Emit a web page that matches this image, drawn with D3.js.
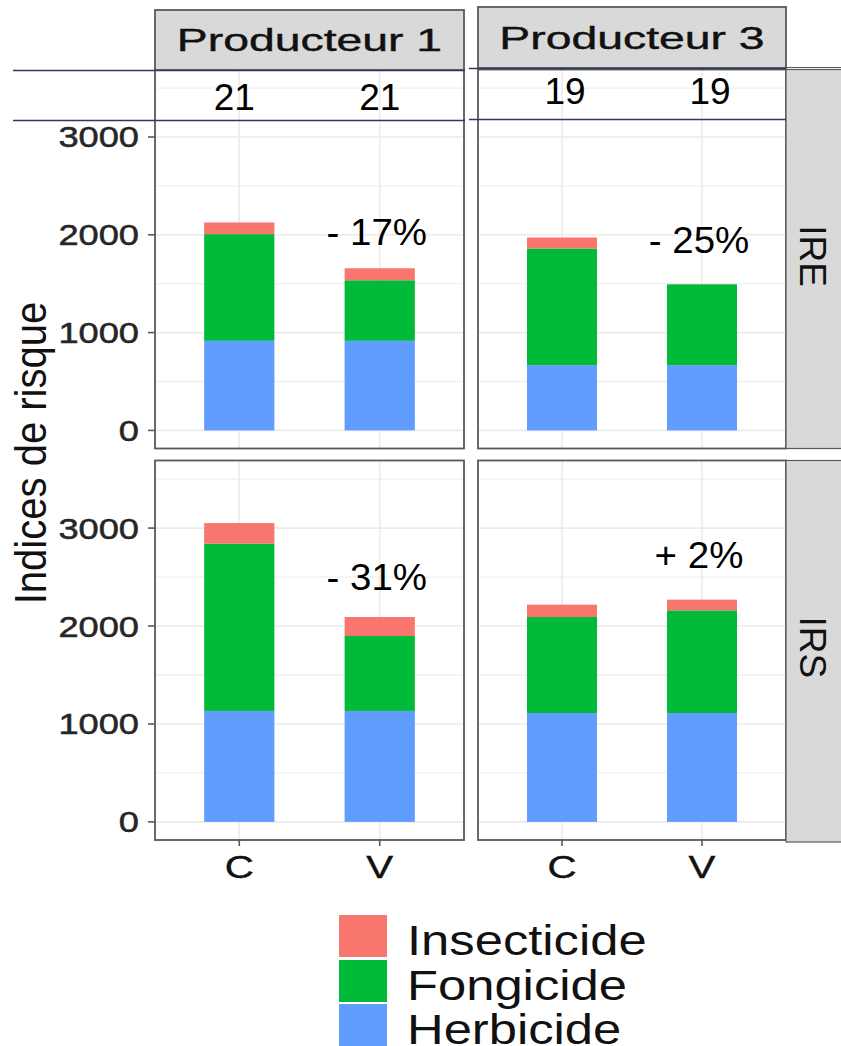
<!DOCTYPE html>
<html>
<head>
<meta charset="utf-8">
<script src="https://cdn.jsdelivr.net/npm/d3@7"></script>
<style>
  html, body { margin: 0; padding: 0; background: #fff; }
  svg { display: block; font-family: "Liberation Sans", Arial, Helvetica, sans-serif; }
</style>
</head>
<body>
<svg id="chart" width="841" height="1046"></svg>
<script>
// ---------------- data ----------------
const producers = ["Producteur 1", "Producteur 3"];
const indices = ["IRE", "IRS"];
const categories = ["C", "V"];
const types = ["Herbicide", "Fongicide", "Insecticide"]; // stack order, bottom to top
const typeColors = ["#619CFF", "#00BA38", "#F8766D"];
const legendOrder = ["Insecticide", "Fongicide", "Herbicide"];

// values per panel/bar: [P1 C, P1 V, P3 C, P3 V]
const herbicideIRE   = [916, 916, 667, 667];
const fongicideIRE   = [1091, 619, 1193, 827];
const insecticideIRE = [119, 123, 112, 0];
const herbicideIRS   = [1133, 1133, 1112, 1112];
const fongicideIRS   = [1708, 765, 980, 1048];
const insecticideIRS = [210, 194, 126, 109];

const countLabels  = ["21", "21", "19", "19"];            // per producer/category (header row)
const changeLabels = [["- 17%", "- 25%"], ["- 31%", "+ 2%"]]; // [row][producer]
const changeLabelValue = [[1900, 1815], [2370, 2595]];     // annotation height (data units)
const yTicks = [0, 1000, 2000, 3000];
const yMinor = [500, 1500, 2500, 3500];
const yTitle = "Indices de risque";

// ---------------- layout ----------------
const svg = d3.select("#chart");
const colX = [[155, 464], [478, 786]];
const rowY = [[448.5, 69.5], [840, 460.5]];
const yDomain = [-185, 3690];
const stripR = [786, 841];

const xScales = colX.map(r => d3.scalePoint().domain(categories).range(r).padding(0.6));
const yScales = rowY.map(r => d3.scaleLinear().domain(yDomain).range(r));
const color = d3.scaleOrdinal().domain(types).range(typeColors);

const seriesByRow = [
  [herbicideIRE, fongicideIRE, insecticideIRE],
  [herbicideIRS, fongicideIRS, insecticideIRS]
];

function sText(g, o) {
  const t = g.append("text")
    .attr("transform", `translate(${o.x},${o.y})` + (o.rotate ? ` rotate(${o.rotate})` : "") + ` scale(${o.sx || 1},1)`)
    .attr("text-anchor", o.anchor || "middle")
    .attr("font-size", o.size)
    .attr("fill", o.fill || "#000")
    .text(o.text);
  if (o.stroke) t.attr("stroke", o.fill || "#000").attr("stroke-width", o.stroke);
  return t;
}

const axisColor = "#595959";

indices.forEach((idx, ri) => {
  const y = yScales[ri];
  producers.forEach((prod, ci) => {
    const x = xScales[ci];
    const step = x.step();
    const bw = step * 0.5;
    const g = svg.append("g");
    g.append("rect").attr("x", colX[ci][0]).attr("y", rowY[ri][1])
      .attr("width", colX[ci][1] - colX[ci][0]).attr("height", rowY[ri][0] - rowY[ri][1])
      .attr("fill", "#fff");
    g.selectAll(".gmin").data(yMinor).join("line")
      .attr("x1", colX[ci][0]).attr("x2", colX[ci][1])
      .attr("y1", d => y(d)).attr("y2", d => y(d))
      .attr("stroke", "#F0F0F0").attr("stroke-width", 1.3);
    g.selectAll(".gmaj").data(yTicks).join("line")
      .attr("x1", colX[ci][0]).attr("x2", colX[ci][1])
      .attr("y1", d => y(d)).attr("y2", d => y(d))
      .attr("stroke", "#EBEBEB").attr("stroke-width", 1.6);
    g.selectAll(".gx").data(categories).join("line")
      .attr("x1", d => x(d)).attr("x2", d => x(d))
      .attr("y1", rowY[ri][0]).attr("y2", rowY[ri][1])
      .attr("stroke", "#EBEBEB").attr("stroke-width", 1.6);

    const rows = categories.map((c, k) => {
      const o = { cat: c };
      types.forEach((t, ti) => { o[t] = seriesByRow[ri][ti][ci * 2 + k]; });
      return o;
    });
    const stacked = d3.stack().keys(types)(rows);
    stacked.forEach(layer => {
      g.selectAll(null).data(layer).join("rect")
        .attr("x", d => x(d.data.cat) - bw / 2)
        .attr("width", bw)
        .attr("y", d => y(d[1]))
        .attr("height", d => Math.max(0, y(d[0]) - y(d[1])))
        .attr("fill", color(layer.key));
    });

    g.append("rect").attr("x", colX[ci][0]).attr("y", rowY[ri][1])
      .attr("width", colX[ci][1] - colX[ci][0]).attr("height", rowY[ri][0] - rowY[ri][1])
      .attr("fill", "none").attr("stroke", axisColor).attr("stroke-width", 1.8);

    sText(g, {
      x: x("V") - 3, y: y(changeLabelValue[ri][ci]),
      text: changeLabels[ri][ci], size: 37, sx: 1.04
    });
  });

  const ga = svg.append("g");
  ga.selectAll("line").data(yTicks).join("line")
    .attr("x1", colX[0][0] - 7).attr("x2", colX[0][0])
    .attr("y1", d => y(d)).attr("y2", d => y(d))
    .attr("stroke", axisColor).attr("stroke-width", 1.6);
  yTicks.forEach(v => {
    sText(ga, { x: 139, y: y(v) + 10.5, text: String(v), size: 29, sx: 1.25, anchor: "end", fill: "#262626", stroke: 0.5 });
  });

  svg.append("rect").attr("x", stripR[0]).attr("y", rowY[ri][1])
    .attr("width", stripR[1] - stripR[0] + 2).attr("height", rowY[ri][0] - rowY[ri][1] + (ri === 1 ? 2 : 0))
    .attr("fill", "#D9D9D9").attr("stroke", axisColor).attr("stroke-width", 1.2);
  sText(svg, {
    x: 800, y: (rowY[ri][0] + rowY[ri][1]) / 2 - 3, rotate: 90,
    text: idx, size: 37, sx: 1, fill: "#111"
  });
});

const stripTop = [[10, 70], [7, 68]];
producers.forEach((p, ci) => {
  svg.append("rect").attr("x", colX[ci][0]).attr("y", stripTop[ci][0])
    .attr("width", colX[ci][1] - colX[ci][0]).attr("height", stripTop[ci][1] - stripTop[ci][0])
    .attr("fill", "#D9D9D9").attr("stroke", axisColor).attr("stroke-width", 1.8);
  sText(svg, {
    x: (colX[ci][0] + colX[ci][1]) / 2, y: (stripTop[ci][0] + stripTop[ci][1]) / 2 + 11,
    text: p, size: 30.5, sx: 1.52, fill: "#111", stroke: 0.4
  });
});

const headerLines = [[[13, 465], [70.5, 120.5]], [[469, 786], [68.5, 119.5]]];
const countBase = [110, 104];
const countOffset = [[-5, 0], [3, 8]];
producers.forEach((p, ci) => {
  const [xr, ys] = headerLines[ci];
  ys.forEach(yy => {
    svg.append("line").attr("x1", xr[0]).attr("x2", xr[1]).attr("y1", yy).attr("y2", yy)
      .attr("stroke", "#2E3B5B").attr("stroke-width", 1.6);
  });
  categories.forEach((c, k) => {
    sText(svg, {
      x: xScales[ci](c) + countOffset[ci][k], y: countBase[ci],
      text: countLabels[ci * 2 + k], size: 37, sx: 1
    });
  });
});
svg.append("line").attr("x1", 786).attr("x2", 841).attr("y1", 67.5).attr("y2", 67.5)
  .attr("stroke", "#555").attr("stroke-width", 1.2);

producers.forEach((p, ci) => {
  const x = xScales[ci];
  categories.forEach(c => {
    svg.append("line").attr("x1", x(c)).attr("x2", x(c))
      .attr("y1", rowY[1][0]).attr("y2", rowY[1][0] + 6)
      .attr("stroke", axisColor).attr("stroke-width", 1.6);
    sText(svg, { x: x(c), y: 878, text: c, size: 31, sx: 1.3, fill: "#111", stroke: 0.4 });
  });
});

sText(svg, { x: 46, y: 453, rotate: -90, text: yTitle, size: 44, sx: 0.91, fill: "#111" });

const legY = [915, 960, 1004];
legendOrder.forEach((t, i) => {
  svg.append("rect").attr("x", 339).attr("y", legY[i]).attr("width", 48).attr("height", 42)
    .attr("fill", color(t));
  sText(svg, { x: 407, y: legY[i] + 40, text: t, size: 43, sx: 1.18, anchor: "start", fill: "#111" });
});
</script>
</body>
</html>
